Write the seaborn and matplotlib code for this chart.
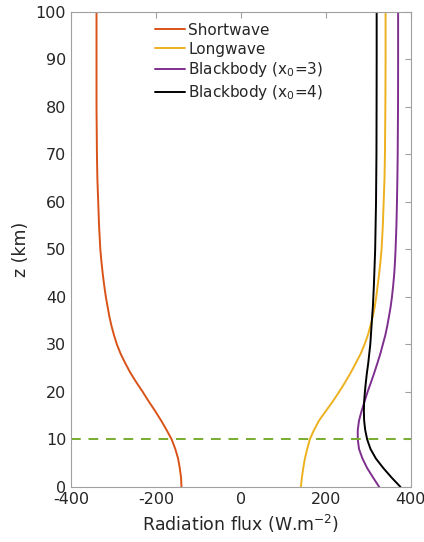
import pandas as pd
import matplotlib
matplotlib.use("Agg")
import matplotlib.pyplot as plt
import seaborn as sns

# altitude grid (km) and flux (W/m2)
z = [0, 2, 4, 6, 8, 10, 12, 14, 16, 18, 20, 22, 24, 26, 28, 30, 32, 34, 36, 38,
     40, 42.5, 45, 47.5, 50, 55, 60, 65, 70, 80, 90, 100]
shortwave = [-140, -141, -144, -148, -154.5, -163, -175, -188, -202, -217, -231,
             -246, -260, -272, -283, -292, -299, -305, -310, -314,
             -318, -322, -325.5, -328.5, -331, -334, -336, -338, -339, -340, -340, -340]
longwave = [141, 143.5, 146.7, 150.6, 156, 162, 172, 184, 200, 216, 231,
            245, 258, 270, 281.6, 291, 299, 305, 310.6, 315,
            318.5, 322, 325.5, 328.5, 331, 334, 336, 338, 339, 340, 340.5, 340.5]
bb_x3 = [325.5, 311, 297, 286, 278, 275, 275, 278, 284, 291, 298,
         306, 313.7, 321, 328, 334, 340, 344.7, 348.7, 352.5,
         355.5, 358.5, 361, 362.7, 364, 366, 367.3, 368.3, 369, 369.8, 370, 370]
bb_x4 = [375.7, 354.5, 335, 317.6, 305, 297.2, 292.5, 290, 289.4, 290, 291.8,
         294, 296.5, 299.6, 302, 304.5, 306, 307.5, 309, 310.6,
         311.7, 313, 314, 315, 316, 317, 318, 318.5, 319, 319.3, 319.5, 319.5]

labels = ["Shortwave", "Longwave", "Blackbody (x$_0$=3)", "Blackbody (x$_0$=4)"]
series = [shortwave, longwave, bb_x3, bb_x4]
colors = ["#D95319", "#EDB120", "#7E2F8E", "#000000"]
tropopause = 10

rows = []
for lab, vals in zip(labels, series):
    for zz, v in zip(z, vals):
        rows.append({"flux": v, "z": zz, "series": lab})
df = pd.DataFrame(rows)

sns.set_style("white")
plt.rcParams["font.family"] = ["DejaVu Sans"]
plt.rcParams["axes.unicode_minus"] = False

fig = plt.figure(figsize=(4.24, 5.42), dpi=100)
ax = fig.add_axes([0.1675, 0.1015, 0.8015, 0.8765])

sns.lineplot(data=df, x="flux", y="z", hue="series", hue_order=labels,
             palette=dict(zip(labels, colors)), orient="y", sort=False,
             estimator=None, linewidth=1.4, ax=ax)
ax.axhline(tropopause, color="#77AC30", linestyle=(0, (5, 4)), linewidth=1.4)

ax.set_xlim(-400, 400)
ax.set_ylim(0, 100)
ax.set_xticks([-400, -200, 0, 200, 400])
ax.set_yticks(range(0, 101, 10))
ax.set_xlabel("Radiation flux (W.m$^{-2}$)", fontsize=12.5, color="#262626")
ax.set_ylabel("z (km)", fontsize=12.5, color="#262626")
ax.tick_params(direction="in", length=4, width=0.8, color="#a0a0a0",
               labelcolor="#262626", labelsize=11.5, top=True, right=True)
for sp in ax.spines.values():
    sp.set_visible(True)
    sp.set_color("#a0a0a0")
    sp.set_linewidth(0.8)

ax.legend(frameon=False, loc="upper left", bbox_to_anchor=(0.228, 0.99),
          fontsize=11, handlelength=2.0, handletextpad=0.2, labelspacing=0.25,
          borderaxespad=0)

fig.savefig("out.png", dpi=100)
